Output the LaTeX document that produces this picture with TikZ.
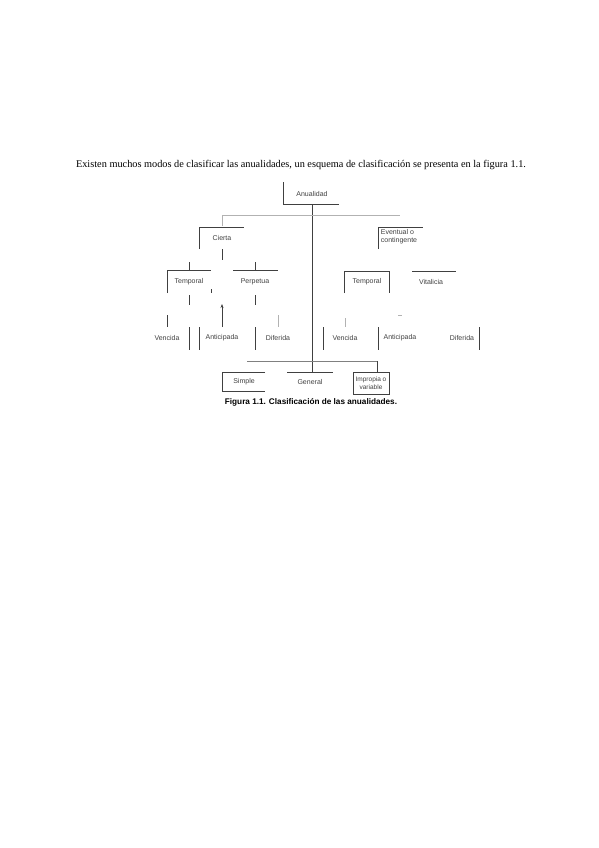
\documentclass[tikz,border=0pt]{standalone}
\usepackage{fontspec}
\setmainfont{Liberation Serif}
\setsansfont{Liberation Sans}
\usetikzlibrary{arrows.meta}

\begin{document}
\begin{tikzpicture}[x=1pt, y=-1pt,
    lbl/.style={font=\sffamily\fontsize{7}{8}\selectfont, text=black!75, inner sep=0pt},
    edge/.style={line width=0.9pt, black!75},
    faint/.style={line width=0.9pt, black!30},
    arrow/.style={-{Stealth[length=4pt, width=3pt]}, line width=1pt, black!75},
]
\useasboundingbox (0,0) rectangle (599,848);

% Intro sentence
\node[font=\fontsize{10.3}{12}\selectfont, inner sep=0pt] (intro) at (301,165)
    {Existen muchos modos de clasificar las anualidades, un esquema de clasificación se presenta en la figura 1.1.};

% Root
\node[lbl] (anual) at (312,194) {Anualidad};
\draw[edge] (283,182) -- (283,204) -- (339,204);
\draw[edge] (312,204) -- (312,372);
\draw[faint] (222,226) -- (222,215) -- (400,215);

% Left branch
\node[lbl] (cierta) at (222,238) {Cierta};
\draw[edge] (199,249) -- (199,227) -- (244,227);
\draw[edge] (222,249) -- (222,260);

\node[lbl] (templ) at (189,282) {Temporal};
\draw[edge] (189,262) -- (189,270);
\draw[edge] (167,293) -- (167,270) -- (211,270);
\draw[edge] (211,289) -- (211,293);
\draw[edge] (189,295) -- (189,305);

\node[lbl] (perp) at (255,282) {Perpetua};
\draw[edge] (255,262) -- (255,270);
\draw[edge] (233,270) -- (278,270);
\draw[edge] (255,295) -- (255,305);

\draw[arrow] (222,327) -- (222,304);
\draw[edge] (167,315) -- (167,327);
\draw[faint] (278,315) -- (278,327);

\node[lbl] (vencl) at (167,338) {Vencida};
\node[lbl] (antl) at (222,338) {Anticipada};
\node[lbl] (difl) at (278,338) {Diferida};
\foreach \x in {189,199,255}
    \draw[edge] (\x,327) -- (\x,350);

% Right branch
\node[lbl, align=left] (event) at (399,237) {Eventual o\\contingente};
\draw[edge] (378,249) -- (378,227) -- (423,227);

\node[lbl] (tempr) at (367,282) {Temporal};
\draw[edge] (344,293) -- (344,271) -- (389,271) -- (389,293);

\node[lbl] (vital) at (431,282) {Vitalicia};
\draw[edge] (412,271) -- (456,271);

\draw[faint] (398,315) -- (402,315);
\draw[faint] (345,318) -- (345,327);

\node[lbl] (vencr) at (345,338) {Vencida};
\node[lbl] (antr) at (400,338) {Anticipada};
\node[lbl] (difr) at (462,338) {Diferida};
\foreach \x in {323,378,479}
    \draw[edge] (\x,327) -- (\x,350);

% Bottom row
\draw[black!50, line width=0.9pt] (247,361) -- (377,361);
\draw[edge] (377,361) -- (377,372);

\node[lbl] (simple) at (244,382) {Simple};
\draw[edge] (265,372) -- (222,372) -- (222,391) -- (265,391);

\node[lbl] (general) at (310,382) {General};
\draw[edge] (287,372) -- (333,372);

\node[lbl, align=center, font=\sffamily\fontsize{6.5}{7.5}\selectfont] (impropia) at (371,383) {Impropia o\\variable};
\draw[edge] (353,372) rectangle (389,394);

% Caption
\node[font=\sffamily\bfseries\fontsize{8.2}{9}\selectfont, inner sep=0pt] (caption) at (311,402)
    {Figura 1.1. Clasificación de las anualidades.};

\end{tikzpicture}
\end{document}
